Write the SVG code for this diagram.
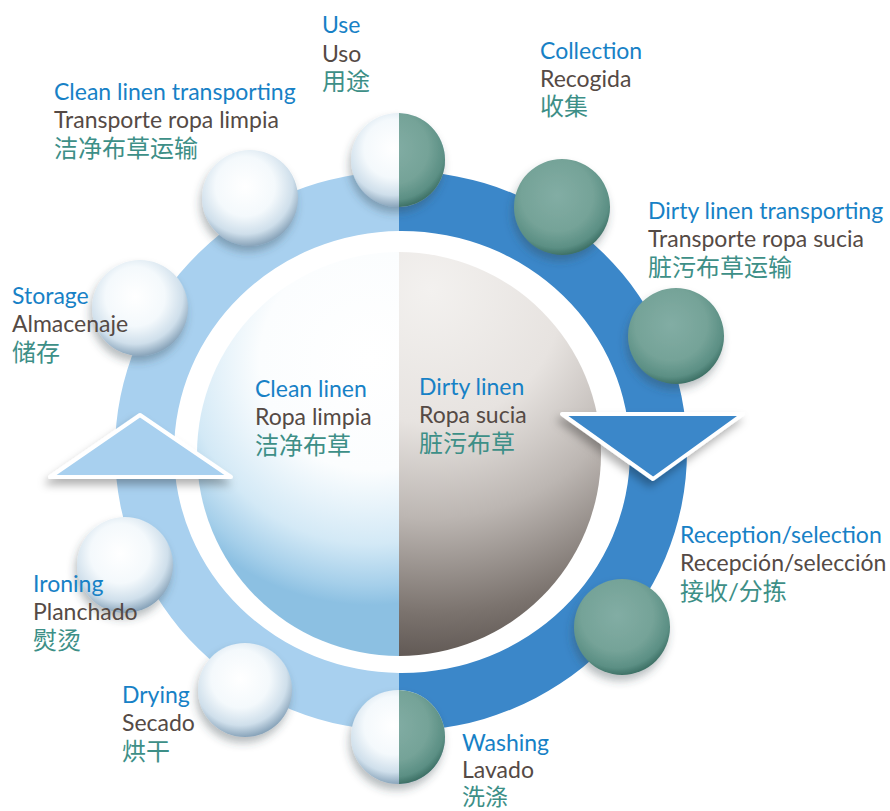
<svg xmlns="http://www.w3.org/2000/svg" width="890" height="811" viewBox="0 0 890 811">
<defs>
<style>
.t{font-family:Lato,"Noto Sans CJK SC",sans-serif;font-size:23px}
.b{fill:#1781c6}
.g{fill:#554a45}
.c{fill:#3d8f87;font-size:24px}
</style>
<radialGradient id="wb" cx="0.45" cy="0.38" r="0.62">
<stop offset="0" stop-color="#ffffff"/><stop offset="0.5" stop-color="#f4f9fc"/><stop offset="0.8" stop-color="#cfdfeb"/><stop offset="1" stop-color="#8aa5bb"/>
</radialGradient>
<radialGradient id="tb" cx="0.45" cy="0.38" r="0.62">
<stop offset="0" stop-color="#82ada4"/><stop offset="0.6" stop-color="#75a398"/><stop offset="0.88" stop-color="#5b8f84"/><stop offset="1" stop-color="#3f7267"/>
</radialGradient>
<radialGradient id="sl" gradientUnits="userSpaceOnUse" cx="370" cy="360" r="245">
<stop offset="0" stop-color="#ffffff"/><stop offset="0.45" stop-color="#fbfdfe"/><stop offset="0.75" stop-color="#d3e9f6"/><stop offset="0.92" stop-color="#a5cfea"/><stop offset="1" stop-color="#8cc0e2"/>
</radialGradient>
<radialGradient id="sr" gradientUnits="userSpaceOnUse" cx="430" cy="290" r="380">
<stop offset="0" stop-color="#f3f1ef"/><stop offset="0.35" stop-color="#e7e3e0"/><stop offset="0.6" stop-color="#bcb6b2"/><stop offset="0.85" stop-color="#7b736e"/><stop offset="1" stop-color="#5a524e"/>
</radialGradient>
<filter id="sh" x="-30%" y="-30%" width="160%" height="170%">
<feDropShadow dx="-2" dy="6" stdDeviation="4" flood-color="#34404c" flood-opacity="0.35"/>
</filter>
<filter id="ash" x="-20%" y="-30%" width="140%" height="180%">
<feDropShadow dx="-3" dy="6" stdDeviation="4" flood-color="#000" flood-opacity="0.3"/>
</filter>
<clipPath id="cl" clipPathUnits="userSpaceOnUse"><rect x="0" y="0" width="399" height="811"/></clipPath>
<clipPath id="cr" clipPathUnits="userSpaceOnUse"><rect x="399" y="0" width="491" height="811"/></clipPath>
</defs>
<rect width="890" height="811" fill="#ffffff"/>

<g id="connectors">
<path fill-rule="evenodd" fill="#a8d0ef" clip-path="url(#cl)" d="M115,451 a286,280 0 1,0 572,0 a286,280 0 1,0 -572,0 Z M174,452 a228,221 0 1,0 456,0 a228,221 0 1,0 -456,0 Z"/>
<path fill-rule="evenodd" fill="#3b87c9" clip-path="url(#cr)" d="M115,451 a286,280 0 1,0 572,0 a286,280 0 1,0 -572,0 Z M174,452 a228,221 0 1,0 456,0 a228,221 0 1,0 -456,0 Z"/>
</g>

<g id="center-sphere">
<circle cx="399" cy="454" r="202" fill="url(#sl)" clip-path="url(#cl)"/>
<circle cx="399" cy="454" r="202" fill="url(#sr)" clip-path="url(#cr)"/>
</g>

<g id="arrowheads">
<polygon points="562,414 743,414 653,479" fill="#3b87c9" stroke="#ffffff" stroke-width="4" stroke-linejoin="round" filter="url(#ash)"/>
<polygon points="140,415 50,477 231,477" fill="#a8d0ef" stroke="#ffffff" stroke-width="4" stroke-linejoin="round" filter="url(#ash)"/>
</g>

<g id="node-use">
<g filter="url(#sh)">
<circle cx="398" cy="160" r="47" fill="url(#wb)"/>
<circle cx="398" cy="160" r="47" fill="url(#tb)" clip-path="url(#cr)"/>
</g>
<text class="t b" x="322" y="33">Use</text>
<text class="t g" x="322" y="62">Uso</text>
<text class="t c" x="322" y="90">用途</text>
</g>

<g id="node-collection">
<circle cx="562" cy="207" r="48" fill="url(#tb)" filter="url(#sh)"/>
<text class="t b" x="540" y="59">Collection</text>
<text class="t g" x="540" y="87">Recogida</text>
<text class="t c" x="540" y="115">收集</text>
</g>

<g id="node-dirty-transport">
<circle cx="676" cy="336" r="48" fill="url(#tb)" filter="url(#sh)"/>
<text class="t b" x="648" y="219">Dirty linen transporting</text>
<text class="t g" x="648" y="247">Transporte ropa sucia</text>
<text class="t c" x="648" y="276">脏污布草运输</text>
</g>

<g id="node-reception">
<circle cx="622" cy="627" r="48" fill="url(#tb)" filter="url(#sh)"/>
<text class="t b" x="680" y="543">Reception/selection</text>
<text class="t g" x="680" y="571">Recepción/selección</text>
<text class="t c" x="680" y="600">接收/分拣</text>
</g>

<g id="node-washing">
<g filter="url(#sh)">
<circle cx="398" cy="737" r="47" fill="url(#wb)"/>
<circle cx="398" cy="737" r="47" fill="url(#tb)" clip-path="url(#cr)"/>
</g>
<text class="t b" x="462" y="751">Washing</text>
<text class="t g" x="462" y="778">Lavado</text>
<text class="t c" x="462" y="805" style="font-size:23px">洗涤</text>
</g>

<g id="node-drying">
<circle cx="245" cy="690" r="47" fill="url(#wb)" filter="url(#sh)"/>
<text class="t b" x="122" y="703">Drying</text>
<text class="t g" x="122" y="731">Secado</text>
<text class="t c" x="122" y="760">烘干</text>
</g>

<g id="node-ironing">
<circle cx="125" cy="565" r="48" fill="url(#wb)" filter="url(#sh)"/>
<text class="t b" x="33" y="592">Ironing</text>
<text class="t g" x="33" y="620">Planchado</text>
<text class="t c" x="33" y="649">熨烫</text>
</g>

<g id="node-storage">
<circle cx="140" cy="308" r="48" fill="url(#wb)" filter="url(#sh)"/>
<text class="t b" x="12" y="304">Storage</text>
<text class="t g" x="12" y="332">Almacenaje</text>
<text class="t c" x="12" y="361">储存</text>
</g>

<g id="node-clean-transport">
<circle cx="250" cy="198" r="48" fill="url(#wb)" filter="url(#sh)"/>
<text class="t b" x="54" y="100">Clean linen transporting</text>
<text class="t g" x="54" y="128">Transporte ropa limpia</text>
<text class="t c" x="54" y="157">洁净布草运输</text>
</g>

<g id="node-clean-linen">
<text class="t b" x="255" y="397">Clean linen</text>
<text class="t g" x="255" y="425">Ropa limpia</text>
<text class="t c" x="255" y="454">洁净布草</text>
</g>

<g id="node-dirty-linen">
<text class="t b" x="419" y="395">Dirty linen</text>
<text class="t g" x="419" y="423">Ropa sucia</text>
<text class="t c" x="419" y="452">脏污布草</text>
</g>
</svg>
